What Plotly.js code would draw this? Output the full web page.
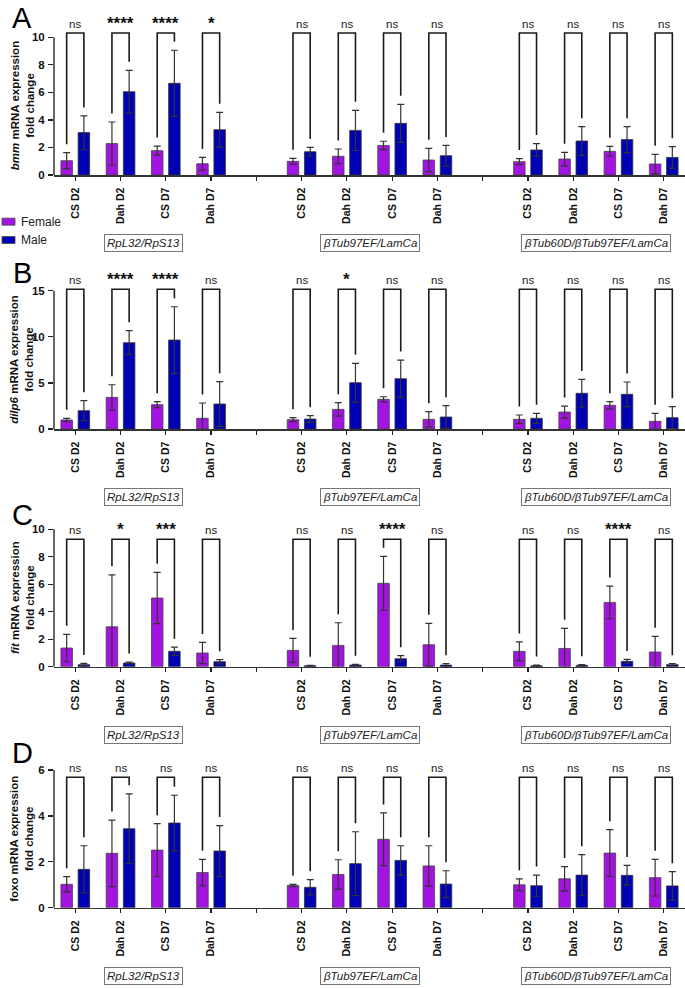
<!DOCTYPE html>
<html><head><meta charset="utf-8">
<script src="https://cdn.plot.ly/plotly-3.0.1.min.js"></script>
<style>html,body{margin:0;padding:0;background:#fff}#chart{width:685px;height:988px}</style>
</head><body><div id="chart"></div>
<script>
// ---------- data ----------
const conditions = ['CS D2', 'Dah D2', 'CS D7', 'Dah D7'];
const normalizers = ['RpL32/RpS13', 'βTub97EF/LamCa', 'βTub60D/βTub97EF/LamCa'];
const genes = ['bmm', 'dilp6', 'fit', 'foxo'];
const geneItalic = [true, true, true, false];
const panelLetters = ['A', 'B', 'C', 'D'];

const bmmFemale    = [1.04, 2.28, 1.77, 0.82,  0.99, 1.36, 2.15, 1.09,  0.97, 1.16, 1.72, 0.80];
const bmmFemaleErr = [0.58, 1.57, 0.33, 0.46,  0.22, 0.53, 0.30, 0.85,  0.22, 0.49, 0.36, 0.70];
const bmmMale      = [3.08, 6.05, 6.66, 3.29,  1.69, 3.24, 3.75, 1.40,  1.82, 2.47, 2.57, 1.28];
const bmmMaleErr   = [1.21, 1.55, 2.40, 1.26,  0.31, 1.46, 1.38, 0.75,  0.46, 1.04, 0.94, 0.78];
const bmmSig       = ['ns', '****', '****', '*',  'ns', 'ns', 'ns', 'ns',  'ns', 'ns', 'ns', 'ns'];

const dilp6Female    = [0.98, 3.43, 2.64, 1.16,  1.01, 2.13, 3.22, 1.05,  1.05, 1.84, 2.57, 0.83];
const dilp6FemaleErr = [0.18, 1.37, 0.32, 1.66,  0.22, 0.73, 0.28, 0.83,  0.47, 0.65, 0.39, 0.87];
const dilp6Male      = [1.99, 9.36, 9.65, 2.71,  1.08, 5.02, 5.46, 1.30,  1.16, 3.87, 3.76, 1.23];
const dilp6MaleErr   = [1.08, 1.30, 3.61, 2.42,  0.37, 2.10, 2.02, 1.23,  0.54, 1.51, 1.34, 1.19];
const dilp6Sig       = ['ns', '****', '****', 'ns',  'ns', '*', 'ns', 'ns',  'ns', 'ns', 'ns', 'ns'];

const fitFemale    = [1.36, 2.91, 5.00, 1.00,  1.19, 1.55, 6.07, 1.60,  1.12, 1.33, 4.68, 1.07];
const fitFemaleErr = [1.00, 3.78, 1.87, 0.77,  0.87, 1.65, 1.96, 1.56,  0.68, 1.46, 1.19, 1.14];
const fitMale      = [0.15, 0.27, 1.12, 0.36,  0.07, 0.12, 0.58, 0.12,  0.07, 0.10, 0.39, 0.15];
const fitMaleErr   = [0.09, 0.07, 0.30, 0.15,  0.03, 0.05, 0.22, 0.10,  0.05, 0.05, 0.14, 0.07];
const fitSig       = ['ns', '*', '***', 'ns',  'ns', 'ns', '****', 'ns',  'ns', 'ns', '****', 'ns'];

const foxoFemale    = [1.02, 2.37, 2.51, 1.53,  0.97, 1.45, 2.98, 1.82,  1.00, 1.26, 2.38, 1.31];
const foxoFemaleErr = [0.33, 1.45, 1.15, 0.58,  0.05, 0.64, 1.15, 0.88,  0.26, 0.53, 1.02, 0.80];
const foxoMale      = [1.67, 3.44, 3.69, 2.47,  0.89, 1.92, 2.06, 1.03,  0.96, 1.42, 1.41, 0.95];
const foxoMaleErr   = [1.03, 1.52, 1.21, 1.11,  0.33, 1.39, 0.64, 0.58,  0.46, 0.89, 0.43, 0.62];
const foxoSig       = ['ns', 'ns', 'ns', 'ns',  'ns', 'ns', 'ns', 'ns',  'ns', 'ns', 'ns', 'ns'];

const yTopTicks = [10, 15, 10, 6];
const yDticks = [2, 5, 2, 2];

// ---------- style / layout ----------
const W = 685, H = 988, ML = 54;
const FONT = '"Liberation Sans", Arial, Helvetica, sans-serif';
const FEMALE = '#A313E2', MALE = '#0000B4';
const INK = '#222';
const BARGAP = 0.24, BARGROUPGAP = 0.33;
const OFFSET = (1 - BARGAP) / 4;

const femaleVals = [bmmFemale, dilp6Female, fitFemale, foxoFemale];
const femaleErrs = [bmmFemaleErr, dilp6FemaleErr, fitFemaleErr, foxoFemaleErr];
const maleVals = [bmmMale, dilp6Male, fitMale, foxoMale];
const maleErrs = [bmmMaleErr, dilp6MaleErr, fitMaleErr, foxoMaleErr];
const sigs = [bmmSig, dilp6Sig, fitSig, foxoSig];

// pixel geometry of each panel (layout only)
const zeroPx = [175, 429, 666.7, 907.7];
const topTickPx = [37.3, 290.7, 529.3, 770];
const rangeTops = [11.6, 17.4, 11.6, 7.0];
const bracketPx = [33, 289.3, 539.3, 777.3];
const letterPx = [18, 273, 515, 753];
const LEG_GAP_PX = 8.5;

// x positions: 4 conditions per normaliser, one empty slot between groups
const xPos = [];
normalizers.forEach((n, g) => conditions.forEach((c, i) => xPos.push(g * 5 + i)));
const tickVals = [], tickText = [];
for (let i = 0; i < normalizers.length * 5 - 1; i++) {
  tickVals.push(i);
  tickText.push(i % 5 === 4 ? '' : conditions[i % 5]);
}

const pxToPaperX = px => (px - ML) / (W - ML);
const pxToPaperY = px => 1 - px / H;

const data = [];
const layout = {
  width: W, height: H,
  margin: {l: ML, r: 0, t: 0, b: 0},
  paper_bgcolor: '#fff', plot_bgcolor: 'rgba(0,0,0,0)',
  barmode: 'group', bargap: BARGAP, bargroupgap: BARGROUPGAP,
  showlegend: false,
  font: {family: FONT, color: INK},
  shapes: [], annotations: []
};

genes.forEach((gene, k) => {
  const s = k === 0 ? '' : String(k + 1);
  const xa = 'x' + s, ya = 'y' + s;
  const scale = (zeroPx[k] - topTickPx[k]) / yTopTicks[k];
  const topPx = zeroPx[k] - rangeTops[k] * scale;
  const bracketTop = (zeroPx[k] - bracketPx[k]) / scale;
  const gapU = LEG_GAP_PX / scale;

  const errStyle = arr => ({type: 'data', array: arr, visible: true, color: '#333', thickness: 1.2, width: 3.5});
  data.push({
    type: 'bar', name: 'Female', x: xPos, y: femaleVals[k], xaxis: xa, yaxis: ya,
    marker: {color: FEMALE, line: {color: '#444', width: 0.8}},
    error_y: errStyle(femaleErrs[k]), hoverinfo: 'y'
  });
  data.push({
    type: 'bar', name: 'Male', x: xPos, y: maleVals[k], xaxis: xa, yaxis: ya,
    marker: {color: MALE, line: {color: '#333', width: 0.8}},
    error_y: errStyle(maleErrs[k]), hoverinfo: 'y'
  });

  layout['xaxis' + s] = {
    domain: [0, 1], anchor: ya, range: [-0.47, 13.47],
    tickmode: 'array', tickvals: tickVals, ticktext: tickText, tickangle: -90,
    ticks: 'outside', ticklen: 4, tickwidth: 1.2, tickcolor: INK, ticklabelstandoff: 3,
    showline: true, linecolor: '#333', linewidth: 1.5,
    showgrid: false, zeroline: false, fixedrange: true,
    tickfont: {family: FONT, size: 10.5, color: '#111', weight: 'bold'}
  };
  layout['yaxis' + s] = {
    domain: [pxToPaperY(zeroPx[k]), pxToPaperY(topPx)], anchor: xa,
    range: [0, rangeTops[k]], tick0: 0, dtick: yDticks[k],
    ticks: 'outside', ticklen: 5, tickwidth: 1.2, tickcolor: INK, ticklabelstandoff: 1,
    showline: false, showgrid: false, zeroline: false, fixedrange: true,
    tickfont: {family: FONT, size: 11.5, color: '#111', weight: 'bold'}
  };

  // y axis line from 0 to last tick
  layout.shapes.push({type: 'line', xref: 'paper', yref: ya, x0: 0, x1: 0, y0: 0, y1: yTopTicks[k],
    line: {color: '#333', width: 1.5}});

  // significance brackets & labels
  xPos.forEach((xv, i) => {
    const xf = xv - OFFSET, xm = xv + OFFSET;
    const yf = femaleVals[k][i] + femaleErrs[k][i] + gapU;
    const ym = maleVals[k][i] + maleErrs[k][i] + gapU;
    layout.shapes.push({type: 'path', xref: xa, yref: ya,
      path: `M ${xf},${Math.min(yf, bracketTop)} V ${bracketTop} H ${xm} V ${Math.min(ym, bracketTop)}`,
      line: {color: '#1a1a1a', width: 1.6}});
    const isStar = sigs[k][i] !== 'ns';
    layout.annotations.push({xref: xa, yref: ya, x: xv, y: bracketTop, text: sigs[k][i],
      showarrow: false, xanchor: 'center', yanchor: 'bottom', yshift: isStar ? -2 : 1,
      font: isStar ? {family: FONT, size: 17, color: '#111', weight: 'bold'} : {family: FONT, size: 11.5, color: '#222'}});
  });

  // y title
  const g = geneItalic[k] ? `<i>${gene}</i>` : gene;
  layout.annotations.push({xref: 'paper', yref: 'paper', x: pxToPaperX(22),
    y: pxToPaperY((zeroPx[k] + topTickPx[k]) / 2), textangle: -90, showarrow: false,
    xanchor: 'center', yanchor: 'middle',
    text: `${g} mRNA expression<br>fold change`,
    font: {family: FONT, size: 11.5, color: '#111', weight: 'bold'}});

  // panel letter
  layout.annotations.push({xref: 'paper', yref: 'paper', x: pxToPaperX(22), y: pxToPaperY(letterPx[k]),
    text: panelLetters[k], showarrow: false, xanchor: 'center', yanchor: 'middle',
    font: {family: FONT, size: 29, color: '#000'}});

  // normaliser boxes
  normalizers.forEach((n, gi) => {
    layout.annotations.push({xref: xa, yref: 'paper', x: gi * 5 + 1.5, y: pxToPaperY(zeroPx[k] + 68),
      text: `<i>${n}</i>`, showarrow: false, xanchor: 'center', yanchor: 'middle',
      bordercolor: '#777', borderwidth: 1, borderpad: 2, bgcolor: '#fff',
      font: {family: FONT, size: 11.5, color: '#222'}});
  });
});

// manual legend (left of panel A)
[['Female', FEMALE, 221.7], ['Male', MALE, 240]].forEach(([name, col, cy]) => {
  layout.shapes.push({type: 'rect', xref: 'paper', yref: 'paper',
    x0: pxToPaperX(2), x1: pxToPaperX(15), y0: pxToPaperY(cy + 3.5), y1: pxToPaperY(cy - 3.5),
    fillcolor: col, line: {color: '#444', width: 0.8}});
  layout.annotations.push({xref: 'paper', yref: 'paper', x: pxToPaperX(19), y: pxToPaperY(cy),
    text: name, showarrow: false, xanchor: 'left', yanchor: 'middle',
    font: {family: FONT, size: 12, color: '#222'}});
});

Plotly.newPlot('chart', data, layout, {staticPlot: true, displayModeBar: false});
</script>
</body></html>
